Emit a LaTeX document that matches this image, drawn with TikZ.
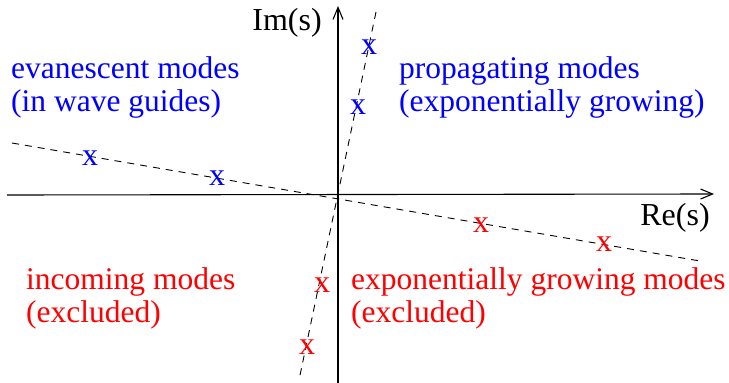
\documentclass[tikz,border=0pt]{standalone}
\usepackage{fontspec}
\setmainfont{Liberation Serif}
\usetikzlibrary{arrows.meta}
\begin{document}
\begin{tikzpicture}[x=1pt,y=-1pt,
  axis/.style={line width=1.1pt,-{Straight Barb[length=12pt,width=10pt,line width=1.1pt]}},
  guide/.style={line width=0.9pt,dash pattern=on 7pt off 6pt},
  lbl/.style={inner sep=0pt,anchor=west,align=left,font=\fontsize{31.5}{33}\selectfont},
  mk/.style={inner sep=0pt,font=\fontsize{32}{33}\selectfont},
  blu/.style={text=blue},
  rd/.style={text=red}]
\useasboundingbox (0,0) rectangle (729,383);
% axes
\coordinate (xs) at (7,195);
\coordinate (xe) at (714,194);
\coordinate (ys) at (338,383);
\coordinate (ye) at (338,6);
\draw[axis] (xs) -- (xe);
\draw[axis] (ys) -- (ye);
% dashed lines
\coordinate (d1a) at (12,143);
\coordinate (d1b) at (700,261);
\coordinate (d2a) at (376,12);
\coordinate (d2b) at (299,380);
\draw[guide] (d1a) -- (d1b);
\draw[guide] (d2a) -- (d2b);
% axis labels
\node[mk] (im) at (287,23) {Im(s)};
\node[mk] (re) at (675,218) {Re(s)};
% marks
\node[mk,blu] (b1) at (369,47) {x};
\node[mk,blu] (b2) at (358,107) {x};
\node[mk,blu] (b3) at (90,158) {x};
\node[mk,blu] (b4) at (217,178) {x};
\node[mk,rd] (r1) at (481,225) {x};
\node[mk,rd] (r2) at (604,244) {x};
\node[mk,rd] (r3) at (322,285) {x};
\node[mk,rd] (r4) at (307,347) {x};
% region labels
\node[lbl,blu] (ev) at (11,87) {evanescent modes\\(in wave guides)};
\node[lbl,blu] (pr) at (399,87) {propagating modes\\(exponentially growing)};
\node[lbl,rd] (in) at (26,298) {incoming modes\\(excluded)};
\node[lbl,rd] (eg) at (351,298) {exponentially growing modes\\(excluded)};
\end{tikzpicture}
\end{document}
